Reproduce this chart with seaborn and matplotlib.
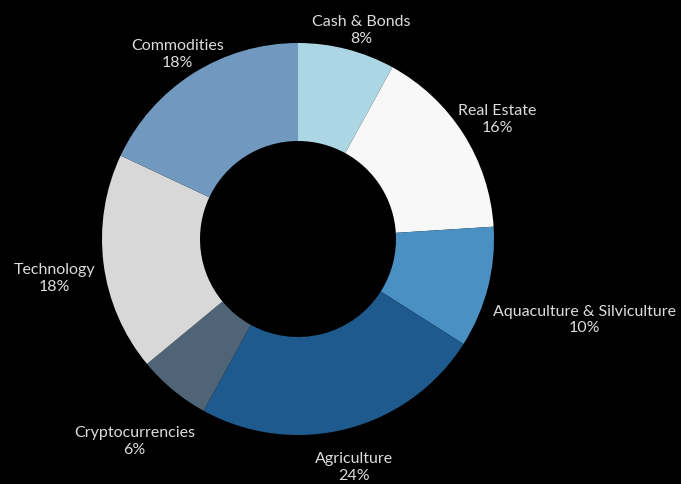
import numpy as np
import matplotlib
matplotlib.use("Agg")
import matplotlib.pyplot as plt
import seaborn as sns

CATEGORIES = ["Cash & Bonds", "Real Estate", "Aquaculture & Silviculture",
              "Agriculture", "Cryptocurrencies", "Technology", "Commodities"]
SHARES = [8, 16, 10, 24, 6, 18, 18]
COLORS = ["#acd6e4", "#f8f8f8", "#4a90c2", "#1f5a8e", "#4f6577", "#d8d8d8", "#7199c0"]

BG = "#000000"
TXT = "#dcdcdc"

sns.set_theme(style="white")
plt.rcParams["font.family"] = ["Lato", "DejaVu Sans"]

W, H = 681, 485
fig = plt.figure(figsize=(W / 100, H / 100), dpi=100)
fig.patch.set_facecolor(BG)
ax = fig.add_axes([0, 0, 1, 1])
ax.set_facecolor(BG)

# center and radius in pixels
cx, cy, R = 298, 240, 196

labels = [f"{c}\n{s}%" for c, s in zip(CATEGORIES, SHARES)]
wedges, texts = ax.pie(SHARES, colors=COLORS, startangle=90, counterclock=False,
                       labels=labels, labeldistance=1.15,
                       wedgeprops=dict(width=0.5, edgecolor="none"),
                       textprops=dict(color=TXT, fontsize=11.5, linespacing=1.25))

# label nudges in pixels (right, down) to mimic the reference layout
nudge = [(7, 9), (9, 0), (-23, 24), (0, 9), (-20, 28), (21, 10), (0, 5)]

for w, t, (dx, dy) in zip(wedges, texts, nudge):
    ang = np.deg2rad((w.theta1 + w.theta2) / 2)
    c = np.cos(ang)
    if c > 0.85:
        t.set_ha("left")
    elif c < -0.85:
        t.set_ha("right")
    else:
        t.set_ha("center")
    t.set_multialignment("center")
    x, y = t.get_position()
    t.set_position((x + dx / R, y - dy / R))

ax.set_aspect("auto")
ax.set_xlim(-cx / R, (W - cx) / R)
ax.set_ylim(-(H - cy) / R, cy / R)
ax.axis("off")

fig.savefig("out.png", dpi=100, facecolor=BG)
